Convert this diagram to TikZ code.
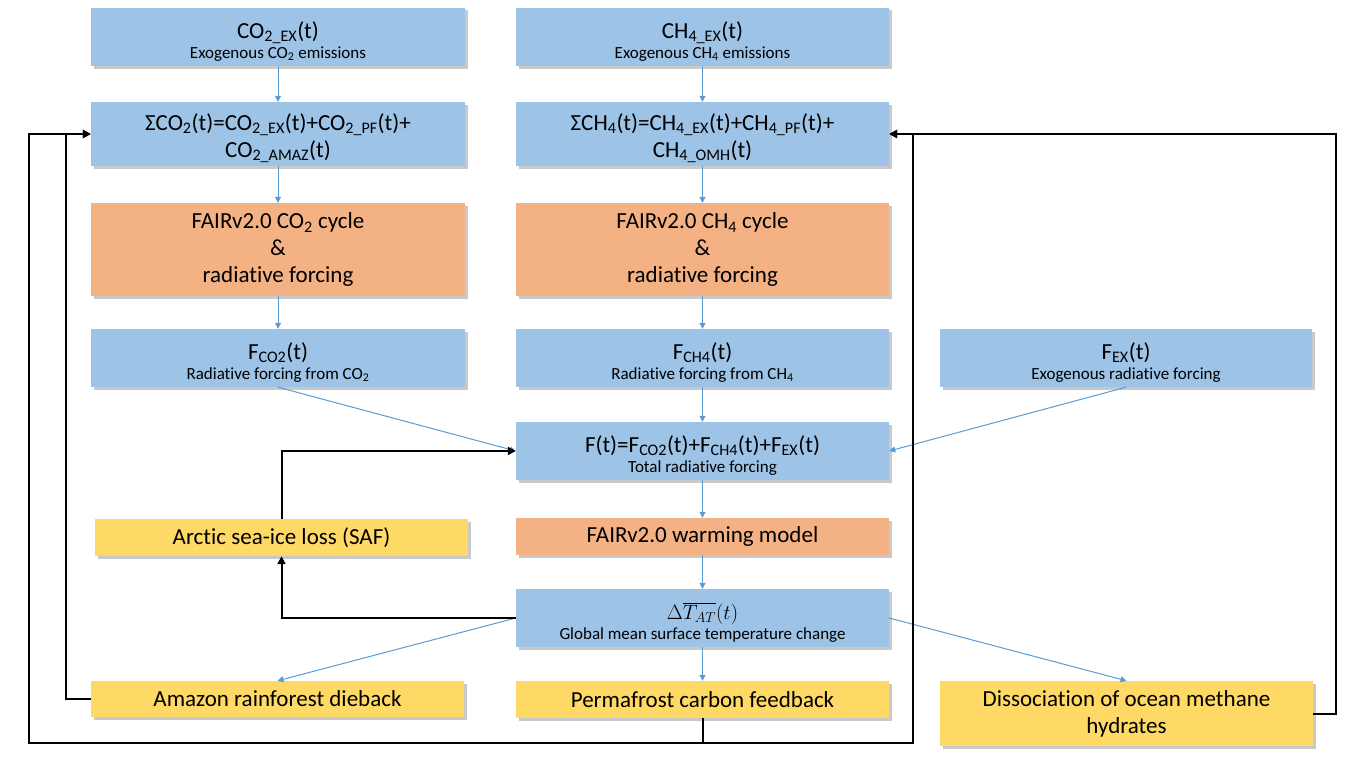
\documentclass[tikz,border=0pt]{standalone}
\usepackage{fontspec}
\setmainfont{Carlito}[Ligatures=NoCommon]
\usetikzlibrary{arrows.meta,shadows}
\definecolor{bbox}{HTML}{9DC3E6}
\definecolor{obox}{HTML}{F4B183}
\definecolor{ybox}{HTML}{FFD966}
\definecolor{bline}{HTML}{5B9BD5}
\newcommand\ttl[1]{{\fontsize{23}{27}\selectfont\rule{0pt}{25pt}#1}}
\newcommand\topstrut{\rule{0pt}{25pt}}
\begin{document}
\begin{tikzpicture}[x=1pt,y=-1pt,
  box/.style={minimum width=374pt, inner sep=0pt, align=center,
    drop shadow={shadow xshift=2.5pt,shadow yshift=-2.5pt,opacity=0.3,fill=black!70},
    font=\fontsize{17}{20}\selectfont},
  big/.style={font=\fontsize{23}{27}\selectfont},
  bluebox/.style={box, fill=bbox},
  twoline/.style={bluebox, minimum height=58pt},
  sumbox/.style={bluebox, big, minimum height=64pt},
  orangebox/.style={box, big, fill=obox},
  yellowbox/.style={box, big, fill=ybox},
  bl/.style={draw=bline, line width=1pt, -{Triangle[length=6pt,width=6pt]}},
  bk/.style={draw=black, line width=2pt, -{Triangle[length=8pt,width=8pt]}}
]
\useasboundingbox (0,0) rectangle (1356,760);
% left column
\node[twoline] (co2ex) at (278,37) {\ttl{CO\textsubscript{2\_EX}(t)}\\Exogenous CO\textsubscript{2} emissions};
\node[sumbox] (sco2) at (278,134) {\topstrut ΣCO\textsubscript{2}(t)=CO\textsubscript{2\_EX}(t)+CO\textsubscript{2\_PF}(t)+\\CO\textsubscript{2\_AMAZ}(t)};
\node[orangebox, minimum height=93pt] (fairco2) at (278,249.5) {FAIRv2.0 CO\textsubscript{2} cycle\\\&\\radiative forcing};
\node[twoline] (fco2) at (278,358) {\ttl{F\textsubscript{CO2}(t)}\\Radiative forcing from CO\textsubscript{2}};
\node[yellowbox, minimum width=373pt, minimum height=37pt] (arctic) at (281.5,537.5) {Arctic sea-ice loss (SAF)};
\node[yellowbox, minimum width=373pt, minimum height=36pt] (amazon) at (277.5,699) {Amazon rainforest dieback};
% middle column
\node[twoline, minimum width=373pt] (ch4ex) at (702.5,37) {\ttl{CH\textsubscript{4\_EX}(t)}\\Exogenous CH\textsubscript{4} emissions};
\node[sumbox, minimum width=373pt] (sch4) at (702.5,134) {\topstrut ΣCH\textsubscript{4}(t)=CH\textsubscript{4\_EX}(t)+CH\textsubscript{4\_PF}(t)+\\CH\textsubscript{4\_OMH}(t)};
\node[orangebox, minimum width=373pt, minimum height=93pt] (fairch4) at (702.5,249.5) {FAIRv2.0 CH\textsubscript{4} cycle\\\&\\radiative forcing};
\node[twoline, minimum width=373pt] (fch4) at (702.5,358) {\ttl{F\textsubscript{CH4}(t)}\\Radiative forcing from CH\textsubscript{4}};
\node[twoline, minimum width=373pt] (ft) at (702.5,451) {\ttl{F(t)=F\textsubscript{CO2}(t)+F\textsubscript{CH4}(t)+F\textsubscript{EX}(t)}\\Total radiative forcing};
\node[orangebox, minimum width=373pt, minimum height=37pt] (warm) at (702.5,536.5) {FAIRv2.0 warming model};
\node[twoline, minimum width=373pt] (dT) at (702.5,618) {{\fontsize{22}{27}\selectfont\rule{0pt}{25pt}$\Delta\overline{T_{AT}}(t)$}\\Global mean surface temperature change};
\node[yellowbox, minimum width=373pt, minimum height=37pt] (perm) at (702.5,699.5) {Permafrost carbon feedback};
% right column
\node[twoline, minimum width=372pt] (fex) at (1126,358) {\ttl{F\textsubscript{EX}(t)}\\Exogenous radiative forcing};
\node[yellowbox, minimum width=373pt, minimum height=65pt] (diss) at (1126.5,713.5) {Dissociation of ocean methane\\hydrates};
% blue connectors
\draw[bl] (co2ex.south) -- (sco2.north);
\draw[bl] (sco2.south) -- (fairco2.north);
\draw[bl] (fairco2.south) -- (fco2.north);
\draw[bl] (ch4ex.south) -- (sch4.north);
\draw[bl] (sch4.south) -- (fairch4.north);
\draw[bl] (fairch4.south) -- (fch4.north);
\draw[bl] (fch4.south) -- (ft.north);
\draw[bl] (ft.south) -- (warm.north);
\draw[bl] (warm.south) -- (dT.north);
\draw[bl] (dT.south) -- (perm.north);
\draw[bl] (fco2.south) -- (ft.west);
\draw[bl] (fex.south) -- (ft.east);
\draw[bl] (dT.west) -- (amazon.north);
\draw[bl] (dT.east) -- (diss.north);
% black feedback connectors
\coordinate (bl) at (29,743);
\coordinate (br) at (913,743);
\draw[bk] (dT.west) -| (arctic.south);
\draw[bk] (arctic.north) |- (ft.west);
\draw[bk] (amazon.west) -- ++(-25,0) |- (sco2.west);
\draw[bk] (perm.south) |- (bl) |- (sco2.west);
\draw[bk] (perm.south) |- (br) |- (sch4.east);
\draw[bk] (diss.east) -- ++(23,0) |- (sch4.east);
\end{tikzpicture}
\end{document}
